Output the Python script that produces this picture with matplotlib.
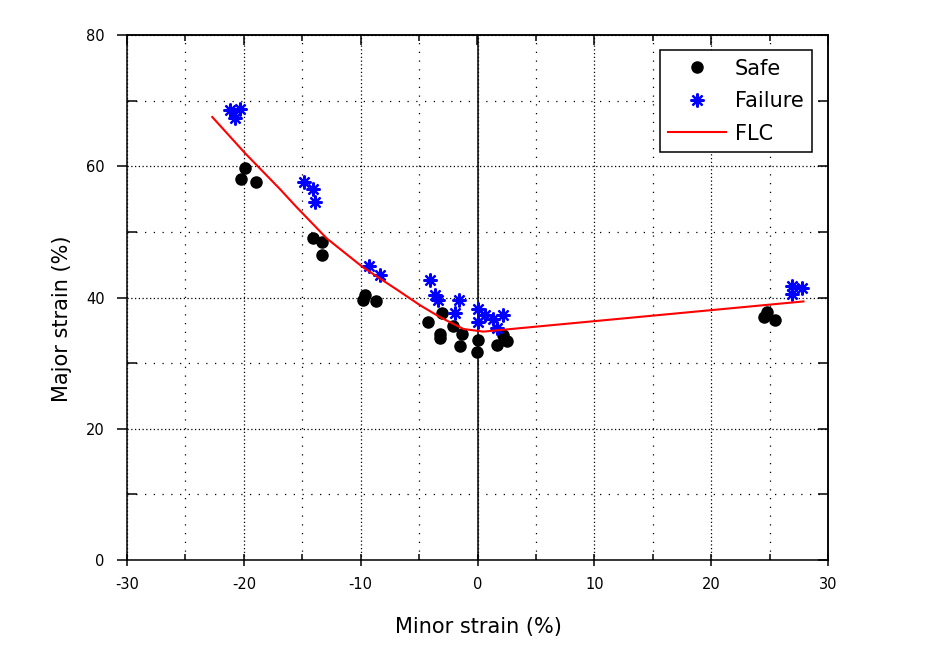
import matplotlib
matplotlib.use("Agg")
import matplotlib.pyplot as plt
from matplotlib.ticker import MultipleLocator

plt.rcParams['font.family'] = ['DejaVu Sans']
plt.rcParams['axes.unicode_minus'] = False

# Safe points (minor strain %, major strain %)
safe_x = [-19.9, -20.2, -19.0, -14.05, -13.3, -13.3, -9.6, -9.8, -8.7,
          -3.06, -4.2, -3.2, -3.2, -2.07, -1.35, -1.5, 0.07, -0.07, 1.65, 2.2, 2.5,
          24.5, 25.5, 24.75]
safe_y = [59.7, 58.0, 57.6, 49.0, 48.5, 46.5, 40.4, 39.6, 39.5,
          37.6, 36.3, 34.5, 33.8, 35.6, 34.5, 32.6, 33.5, 31.7, 32.8, 34.3, 33.3,
          37.1, 36.6, 37.8]

# Failure points
fail_x = [-21.2, -20.3, -20.75, -14.85, -14.05, -13.9, -9.25, -8.35,
          -4.1, -3.6, -3.4, -1.6, -1.9, 0.07, 0.64, 0.07, 1.36, 2.2, 1.65,
          26.9, 27.75, 26.9]
fail_y = [68.6, 68.8, 67.3, 57.6, 56.5, 54.6, 44.8, 43.4,
          42.7, 40.4, 39.6, 39.6, 37.7, 38.3, 37.3, 36.3, 36.8, 37.3, 35.3,
          41.7, 41.4, 40.6]

# Forming limit curve
flc_x = [-22.7, -19.9, -16.9, -15.5, -12.9, -9.8, -6.9, -4.9, -3.2, -1.2, 0.5, 27.9]
flc_y = [67.5, 62.0, 56.5, 53.8, 49.0, 44.6, 41.2, 38.8, 37.0, 35.2, 34.8, 39.4]

fig = plt.figure(figsize=(9.41, 6.49), dpi=100)
W, H = 941, 649
ax = fig.add_axes([127 / W, (H - 560) / H, (828 - 127) / W, (560 - 35) / H])

ax.set_xlim(-30, 30)
ax.set_ylim(0, 80)
ax.xaxis.set_major_locator(MultipleLocator(10))
ax.xaxis.set_minor_locator(MultipleLocator(5))
ax.yaxis.set_major_locator(MultipleLocator(20))
ax.yaxis.set_minor_locator(MultipleLocator(10))

ax.grid(True, which='major', color='black', linestyle=(0, (1, 2)), linewidth=0.9)
ax.grid(True, which='minor', color='black', linestyle=(0, (1, 6)), linewidth=0.9)
ax.set_axisbelow(True)
ax.axvline(0, color='black', linewidth=1.1, zorder=1.5)

for s in ax.spines.values():
    s.set_linewidth(1.1)
    s.set_color('black')

ax.tick_params(axis='x', which='major', direction='inout', length=8, width=1.1,
               labelsize=10.5, pad=8)
ax.tick_params(axis='x', which='minor', direction='in', length=4, width=1.1)
ax.tick_params(axis='y', which='major', direction='out', length=7, width=1.1,
               labelsize=10.5, pad=9)
ax.tick_params(axis='y', which='minor', direction='in', length=7, width=1.1)

# mirrored inward ticks on top and right
top = ax.secondary_xaxis('top')
top.xaxis.set_major_locator(MultipleLocator(10))
top.xaxis.set_minor_locator(MultipleLocator(5))
top.tick_params(which='both', direction='in', width=1.1, labeltop=False)
top.tick_params(which='major', length=7)
top.tick_params(which='minor', length=4)
top.spines['top'].set_linewidth(1.1)
right = ax.secondary_yaxis('right')
right.yaxis.set_major_locator(MultipleLocator(20))
right.yaxis.set_minor_locator(MultipleLocator(10))
right.tick_params(which='both', direction='in', length=7, width=1.1, labelright=False)
right.spines['right'].set_linewidth(1.1)

ax.plot(safe_x, safe_y, linestyle='none', marker='o', color='black', markersize=8,
        label='Safe', zorder=3)
ax.plot(fail_x, fail_y, linestyle='none', marker=(8, 2, 0), color='#0000ff',
        markersize=10, markeredgewidth=1.6, label='Failure', zorder=3)
ax.plot(flc_x, flc_y, color='#ff0000', linewidth=1.5, label='FLC', zorder=4)

leg = ax.legend(loc='upper right', bbox_to_anchor=(0.977, 0.971), borderaxespad=0,
                fontsize=15, frameon=True, fancybox=False, framealpha=1,
                edgecolor='black', handlelength=2.8, handletextpad=0.4,
                labelspacing=0.6, borderpad=0.4)
leg.get_frame().set_linewidth(1.1)

ax.set_xlabel('Minor strain (%)', fontsize=15)
ax.set_ylabel('Major strain (%)', fontsize=15)
ax.xaxis.set_label_coords(0.502, -0.108)
ax.yaxis.set_label_coords(-0.078, 0.46)

fig.savefig('out.png', dpi=100)
